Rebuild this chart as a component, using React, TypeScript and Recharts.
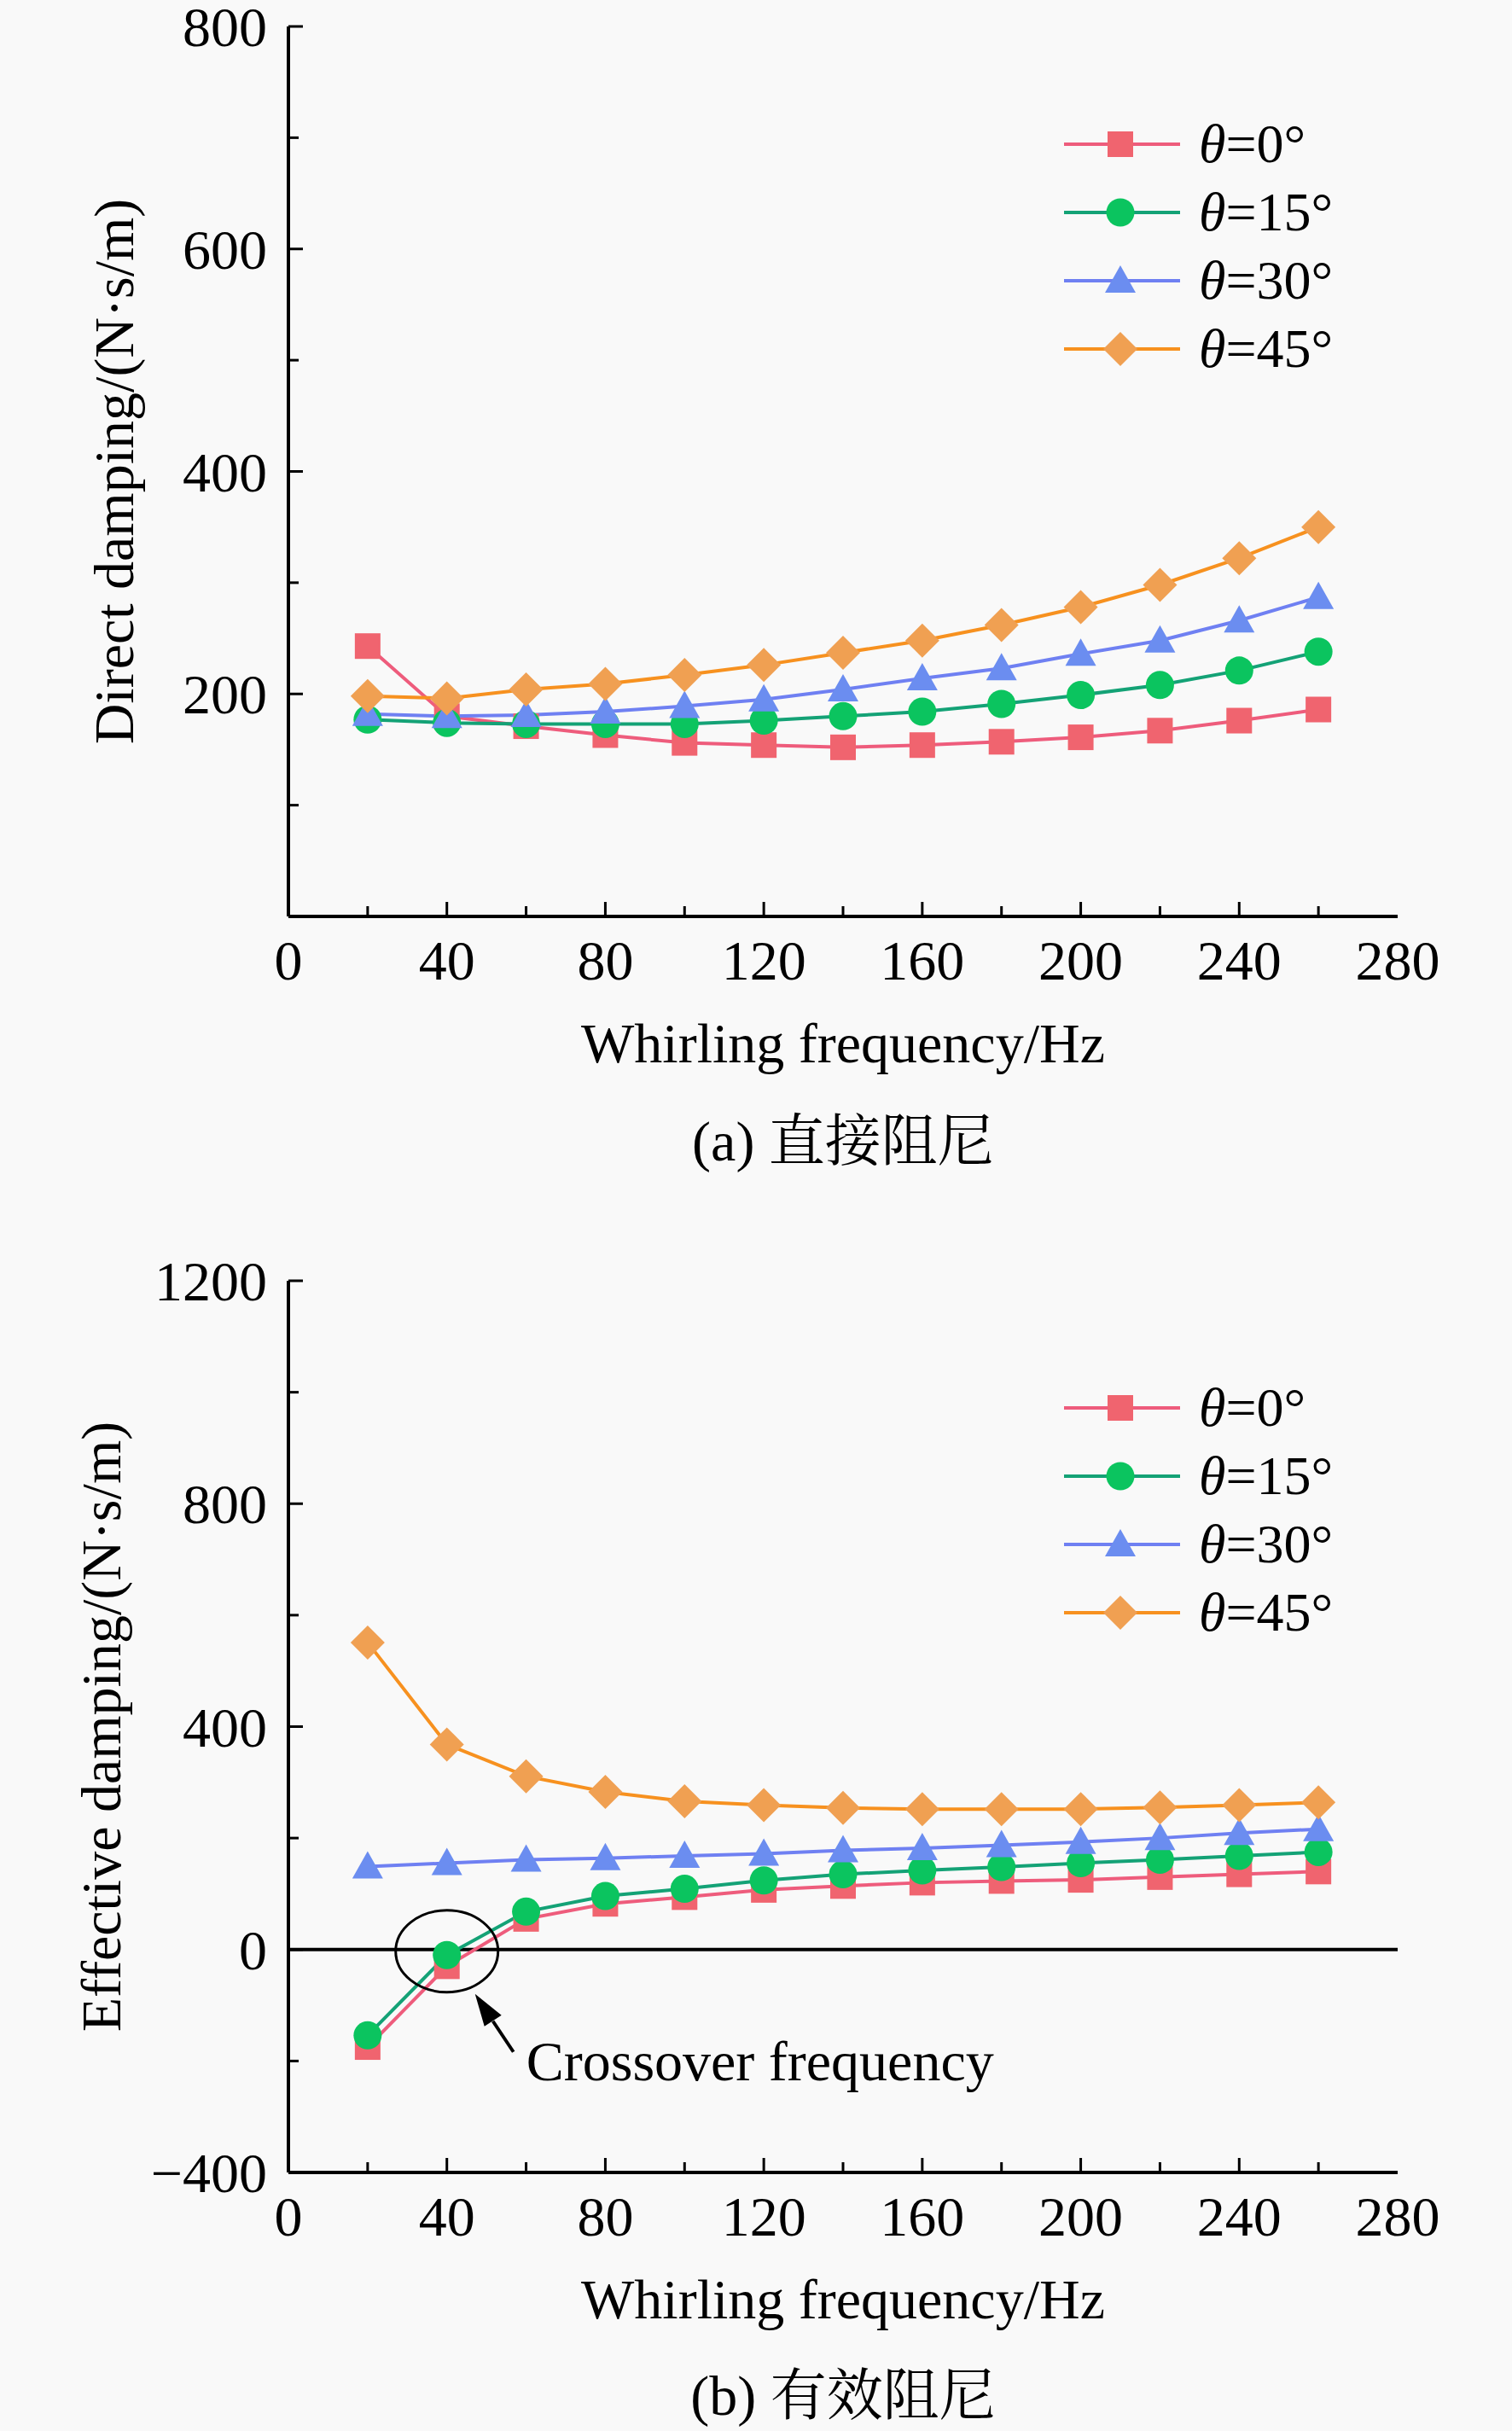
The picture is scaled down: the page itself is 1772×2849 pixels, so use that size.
import React from "react";
import { LineChart, Line, XAxis, YAxis, Legend, ReferenceLine, ReferenceDot } from "recharts";

const FONT = '"Liberation Serif", "Times New Roman", "Noto Serif CJK SC", "Noto Sans CJK SC", serif';
const BG = "#f9f9f9";

// whirling frequency, Hz
const FREQ = [20, 40, 60, 80, 100, 120, 140, 160, 180, 200, 220, 240, 260];

// (a) direct damping, N·s/m
const DIRECT_T0 = [243, 180, 171, 163, 156, 154, 152, 154, 157, 161, 167, 176, 186];
const DIRECT_T15 = [177, 174, 173, 173, 173, 176, 180, 184, 191, 199, 208, 221, 238];
const DIRECT_T30 = [182, 180, 181, 184, 189, 195, 204, 214, 223, 236, 248, 266, 287];
const DIRECT_T45 = [198, 196, 204, 209, 217, 226, 237, 248, 262, 278, 298, 322, 350];

// (b) effective damping, N·s/m
const EFF_T0 = [-175, -30, 55, 82, 94, 107, 114, 120, 123, 125, 130, 135, 140];
const EFF_T15 = [-154, -10, 68, 96, 109, 124, 135, 142, 148, 155, 161, 168, 175];
const EFF_T30 = [149, 155, 161, 164, 168, 172, 178, 182, 187, 193, 200, 209, 216];
const EFF_T45 = [551, 368, 311, 283, 266, 259, 254, 252, 252, 252, 255, 259, 264];

const X_TICKS = [0, 20, 40, 60, 80, 100, 120, 140, 160, 180, 200, 220, 240, 260, 280];
const Y_TICKS_A = [0, 100, 200, 300, 400, 500, 600, 700, 800];
const Y_LABELS_A = [200, 400, 600, 800];
const Y_TICKS_B = [-400, -200, 0, 200, 400, 600, 800, 1000, 1200];
const Y_LABELS_B = [-400, 0, 400, 800, 1200];

const SERIES = [
  { key: "t0", deg: "0", line: "#ee5c7c", fill: "#f0646f", shape: "square" },
  { key: "t15", deg: "15", line: "#14a276", fill: "#0bc45f", shape: "circle" },
  { key: "t30", deg: "30", line: "#6f80f2", fill: "#6b8df0", shape: "triangle" },
  { key: "t45", deg: "45", line: "#f7911f", fill: "#f0a052", shape: "diamond" },
];

function rows(t0: number[], t15: number[], t30: number[], t45: number[]) {
  return FREQ.map((f, i) => ({ f, t0: t0[i], t15: t15[i], t30: t30[i], t45: t45[i] }));
}

const directData = rows(DIRECT_T0, DIRECT_T15, DIRECT_T30, DIRECT_T45);
const effData = rows(EFF_T0, EFF_T15, EFF_T30, EFF_T45);

function Marker({ shape, cx, cy, fill }: any) {
  if (cx == null || cy == null) return null;
  switch (shape) {
    case "square":
      return <rect x={cx - 15} y={cy - 15} width={30} height={30} fill={fill} />;
    case "circle":
      return <circle cx={cx} cy={cy} r={16.5} fill={fill} />;
    case "triangle":
      return <polygon points={`${cx},${cy - 18} ${cx - 18},${cy + 14} ${cx + 18},${cy + 14}`} fill={fill} />;
    default:
      return <polygon points={`${cx},${cy - 20} ${cx + 20},${cy} ${cx},${cy + 20} ${cx - 20},${cy}`} fill={fill} />;
  }
}

function XTick(props: any) {
  const { x, y, payload } = props;
  const v = payload.value;
  const major = v % 40 === 0;
  return (
    <g>
      {v > 0 && v < 280 && (
        <line x1={x} x2={x} y1={y} y2={y - (major ? 17 : 12)} stroke="#000" strokeWidth={3} />
      )}
      {major && (
        <text x={x} y={y + 74} textAnchor="middle" fontSize={66} fontFamily={FONT} fill="#000">
          {v}
        </text>
      )}
    </g>
  );
}

function YTick(props: any) {
  const { x, y, payload, labels } = props;
  const v = payload.value;
  const labeled = labels.includes(v);
  const major = labeled || v === 0;
  return (
    <g>
      <line x1={x} x2={x + (major ? 17 : 12)} y1={y} y2={y} stroke="#000" strokeWidth={3} />
      {labeled && (
        <text x={x - 25} y={y + 23} textAnchor="end" fontSize={66} fontFamily={FONT} fill="#000">
          {v < 0 ? `\u2212${-v}` : v}
        </text>
      )}
    </g>
  );
}

function LegendBox() {
  return (
    <div style={{ fontFamily: FONT, color: "#000" }}>
      {SERIES.map((s) => (
        <div key={s.key} style={{ display: "flex", alignItems: "center", height: 80 }}>
          <svg width={136} height={50} style={{ display: "block" }}>
            <line x1={0} x2={136} y1={25} y2={25} stroke={s.line} strokeWidth={4} />
            <Marker shape={s.shape} cx={66} cy={25} fill={s.fill} />
          </svg>
          <span style={{ marginLeft: 22, fontSize: 64, whiteSpace: "nowrap" }}>
            <i>θ</i>={s.deg}°
          </span>
        </div>
      ))}
    </div>
  );
}

function CrossoverNote({ cx, cy }: any) {
  if (cx == null || cy == null) return null;
  return (
    <g>
      <ellipse cx={cx} cy={cy + 2} rx={60} ry={48} fill="none" stroke="#000" strokeWidth={3} />
      <line x1={cx + 78} y1={cy + 120} x2={cx + 54} y2={cy + 84} stroke="#000" strokeWidth={4} />
      <polygon
        points={`${cx + 33},${cy + 52} ${cx + 64},${cy + 77} ${cx + 44},${cy + 90}`}
        fill="#000"
      />
      <text x={cx + 93} y={cy + 153} fontSize={66} fontFamily={FONT} fill="#000">
        Crossover frequency
      </text>
    </g>
  );
}

function Panel({ data, height, marginTop, marginBottom, yDomain, yTicks, yLabels, yLabel, yLabelOffset, legendTop, effective }: any) {
  return (
    <LineChart
      width={1772}
      height={height}
      data={data}
      margin={{ top: marginTop, right: 134, bottom: marginBottom, left: 108 }}
      style={{ background: BG }}
    >
      <XAxis
        dataKey="f"
        type="number"
        domain={[0, 280]}
        ticks={X_TICKS}
        interval={0}
        tickSize={0}
        tickMargin={0}
        tickLine={false}
        axisLine={{ stroke: "#000", strokeWidth: 4 }}
        tick={(p: any) => <XTick {...p} />}
        height={200}
        label={{
          value: "Whirling frequency/Hz",
          position: "insideTop",
          offset: 124,
          fontSize: 66,
          fontFamily: FONT,
          fill: "#000",
        }}
      />
      <XAxis
        xAxisId="top"
        orientation="top"
        type="number"
        domain={[0, 280]}
        height={0}
        tick={false}
        tickLine={false}
        axisLine={{ stroke: "#000", strokeWidth: 4 }}
      />
      <YAxis
        type="number"
        domain={yDomain}
        ticks={yTicks}
        interval={0}
        tickSize={0}
        tickMargin={0}
        tickLine={false}
        axisLine={{ stroke: "#000", strokeWidth: 4 }}
        tick={(p: any) => <YTick {...p} labels={yLabels} />}
        width={230}
        label={{
          value: yLabel,
          angle: -90,
          position: "insideLeft",
          offset: yLabelOffset,
          fontSize: 66,
          fontFamily: FONT,
          fill: "#000",
          style: { textAnchor: "middle" },
        }}
      />
      <YAxis
        yAxisId="right"
        orientation="right"
        type="number"
        domain={yDomain}
        width={0}
        tick={false}
        tickLine={false}
        axisLine={{ stroke: "#000", strokeWidth: 4 }}
      />
      {effective && <ReferenceLine y={0} stroke="#000" strokeWidth={4} />}
      {SERIES.map((s) => (
        <Line
          key={s.key}
          type="linear"
          dataKey={s.key}
          stroke={s.line}
          strokeWidth={4}
          isAnimationActive={false}
          dot={(p: any) => <Marker key={`${s.key}-${p.index}`} shape={s.shape} cx={p.cx} cy={p.cy} fill={s.fill} />}
          activeDot={false}
        />
      ))}
      {effective && (
        <ReferenceDot x={40} y={0} r={0} shape={(p: any) => <CrossoverNote cx={p.cx} cy={p.cy} />} />
      )}
      <Legend
        layout="vertical"
        align="center"
        verticalAlign="middle"
        content={() => <LegendBox />}
        wrapperStyle={{ top: legendTop, left: 1247, width: 440, right: "auto", bottom: "auto" }}
      />
    </LineChart>
  );
}

const captionStyle: React.CSSProperties = {
  position: "absolute",
  left: 338,
  width: 1300,
  height: 66,
  lineHeight: "66px",
  textAlign: "center",
  fontSize: 66,
  fontFamily: FONT,
  color: "#000",
  whiteSpace: "nowrap",
};

export default function App() {
  return (
    <div style={{ position: "relative", width: 1772, height: 2849, background: BG, fontFamily: FONT, overflow: "hidden" }}>
      <style>{`body{margin:0;background:${BG}}`}</style>
      <div style={{ position: "absolute", top: 0, left: 0 }}>
        <Panel
          data={directData}
          height={1420}
          marginTop={31}
          marginBottom={146}
          yDomain={[0, 800]}
          yTicks={Y_TICKS_A}
          yLabels={Y_LABELS_A}
          yLabel="Direct damping/(N·s/m)"
          yLabelOffset={25}
          legendTop={129}
          effective={false}
        />
      </div>
      <div style={{ ...captionStyle, top: 1338 - 33 }}>(a) 直接阻尼</div>
      <div style={{ position: "absolute", top: 1420, left: 0 }}>
        <Panel
          data={effData}
          height={1429}
          marginTop={81}
          marginBottom={103}
          yDomain={[-400, 1200]}
          yTicks={Y_TICKS_B}
          yLabels={Y_LABELS_B}
          yLabel="Effective damping/(N·s/m)"
          yLabelOffset={10}
          legendTop={190}
          effective={true}
        />
      </div>
      <div style={{ ...captionStyle, top: 2808 - 33 }}>(b) 有效阻尼</div>
    </div>
  );
}
